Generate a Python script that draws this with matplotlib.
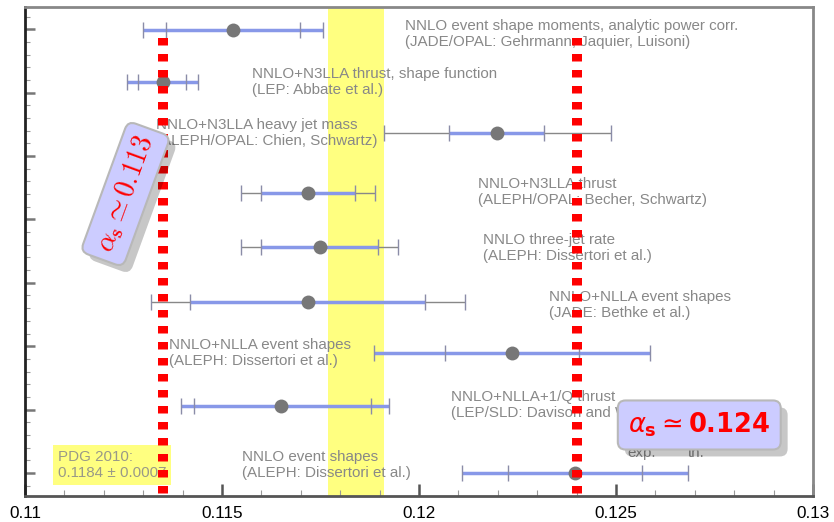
import matplotlib.pyplot as plt
from matplotlib import patheffects
import numpy as np

# Mesures de alpha_s (de baixo para cima)
labels = [
    'NNLO event shapes\n(ALEPH: Dissertori et al.)',
    'NNLO+NLLA+1/Q thrust\n(LEP/SLD: Davison and Webber)',
    'NNLO+NLLA event shapes\n(ALEPH: Dissertori et al.)',
    'NNLO+NLLA event shapes\n(JADE: Bethke et al.)',
    'NNLO three-jet rate\n(ALEPH: Dissertori et al.)',
    'NNLO+N3LLA thrust\n(ALEPH/OPAL: Becher, Schwartz)',
    'NNLO+N3LLA heavy jet mass\n(ALEPH/OPAL: Chien, Schwartz)',
    'NNLO+N3LLA thrust, shape function\n(LEP: Abbate et al.)',
    'NNLO event shape moments, analytic power corr.\n(JADE/OPAL: Gehrmann, Jaquier, Luisoni)',
]
row_pos = [0, 1.06, 1.90, 2.69, 3.56, 4.41, 5.36, 6.17, 6.99]
central = [0.12396, 0.11651, 0.12237, 0.11718, 0.11749, 0.11718, 0.12197, 0.11349, 0.11529]
exp_lo = [0.12227, 0.11430, 0.12066, 0.11420, 0.11599, 0.11599, 0.12076, 0.11288, 0.11359]
exp_hi = [0.12565, 0.11878, 0.12405, 0.12015, 0.11897, 0.11837, 0.12317, 0.11409, 0.11699]
tot_lo = [0.12108, 0.11396, 0.11887, 0.11319, 0.11548, 0.11548, 0.11910, 0.11260, 0.11299]
tot_hi = [0.12684, 0.11923, 0.12586, 0.12118, 0.11946, 0.11888, 0.12487, 0.11438, 0.11757]
th_grey = [False, False, False, True, True, True, True, False, False]

pdg_value = 0.1184
pdg_err = 0.0007
ref_values = [0.1135, 0.1240]

xticks = [0.11, 0.115, 0.12, 0.125, 0.13]
xticklabels = ['0.11', '0.115', '0.12', '0.125', '0.13']

blue = '#8898e8'
grey = '#888888'

fig = plt.figure(figsize=(8.34, 5.22), dpi=100)
ax = fig.add_axes([25/834, 26/522, 788/834, 489/522])

# banda do PDG
ax.axvspan(pdg_value - pdg_err, pdg_value + pdg_err, color='#ffff80', lw=0, zorder=0)

# barras de erro
for i in range(len(central)):
    y = row_pos[i]
    if th_grey[i]:
        ax.hlines(y, tot_lo[i], tot_hi[i], color=grey, lw=1, zorder=3)
        ax.hlines(y, exp_lo[i], exp_hi[i], color=blue, lw=2.5, zorder=3)
    else:
        ax.hlines(y, tot_lo[i], tot_hi[i], color=blue, lw=2.5, zorder=3)
    caps = [tot_lo[i], exp_lo[i], exp_hi[i], tot_hi[i]]
    ax.plot(caps, [y]*4, '|', ms=11, mew=1, color='#8a8ca8', zorder=3)

ax.plot(central, row_pos, 'o', ms=10, color='#777777', mec='none', zorder=3.5)

# textos das medidas
label_pos = [(0.115511, 0.36), (0.120819, 1.31), (0.113665, 2.13), (0.123297, 2.89),
             (0.121628, 3.79), (0.121502, 4.67), (0.113337, 5.60), (0.115763, 6.40),
             (0.119656, 7.16)]
for s, (lx, ly) in zip(labels, label_pos):
    ax.text(lx, ly, s, ha='left', va='top', fontsize=10.9, color=grey,
            family='Liberation Sans', linespacing=1.2, zorder=2)

ax.text(exp_hi[0], 0.26, 'exp.', ha='center', va='baseline', fontsize=10.9,
        color=grey, family='Liberation Sans', zorder=2)
ax.text(tot_hi[0] + 0.0002, 0.26, 'th.', ha='center', va='baseline', fontsize=10.9,
        color=grey, family='Liberation Sans', zorder=2)

# caixa PDG
ax.text(0.110834, 0.363, f'PDG 2010:\n{pdg_value} \u00b1 {pdg_err}', ha='left', va='top',
        fontsize=10.9, color='#999988', family='Liberation Sans', linespacing=1.2,
        bbox=dict(boxstyle='square,pad=0.3', fc='#ffff80', ec='none'), zorder=2)

# linhas vermelhas
for v in ref_values:
    ax.plot([v, v], [0.937, 0], transform=ax.get_xaxis_transform(), color='red',
            lw=7.2, ls=(0, (0.75, 0.85)), solid_capstyle='butt', zorder=4)

# caixas com alpha_s
shadow = [patheffects.withSimplePatchShadow(offset=(5, -5), shadow_rgbFace='k', alpha=0.22)]
t1 = ax.text(0.11255, 4.40, r'$\alpha_{\mathbf{s}} \simeq \mathbf{0.113}$', rotation=70,
             rotation_mode='anchor', ha='center', va='center', fontsize=20, color='red',
             math_fontfamily='cm', zorder=6,
             bbox=dict(boxstyle='round,pad=0.3,rounding_size=0.3', fc='#ccccff', ec='#b8b8b8', lw=1.5))
t1.get_bbox_patch().set_path_effects(shadow)
t2 = ax.text(0.127113, 0.757, r'$\alpha_{\mathbf{s}} \simeq \mathbf{0.124}$',
             ha='center', va='center', fontsize=18.5, color='red',
             math_fontfamily='dejavusans', zorder=6,
             bbox=dict(boxstyle='round,pad=0.4,rounding_size=0.3', fc='#ccccff', ec='#b8b8b8', lw=1.5))
t2.get_bbox_patch().set_path_effects(shadow)

# eixos
ax.set_xlim(0.11, 0.13)
ax.set_ylim(-0.363, 7.35)
ax.set_xticks(xticks)
ax.set_xticklabels(xticklabels, family='Liberation Sans')
ax.set_xticks(np.arange(0.11, 0.1301, 0.001), minor=True)
ax.set_yticks(np.arange(0, 8))
ax.set_yticks(np.arange(-0.2, 7.3, 0.2), minor=True)
ax.tick_params(axis='y', which='major', direction='in', length=7, width=1.8, color='#777', labelleft=False)
ax.tick_params(axis='y', which='minor', direction='in', length=3.5, width=0.8, color='#999')
ax.tick_params(axis='x', which='major', direction='in', length=8.5, width=1.8, color='#555', labelsize=12.3, pad=7)
ax.tick_params(axis='x', which='minor', direction='in', length=4, width=0.8, color='#999')

for side, c in [('left', '#222222'), ('bottom', '#555555'), ('top', '#888888'), ('right', '#888888')]:
    ax.spines[side].set_color(c)
    ax.spines[side].set_linewidth(2)

plt.savefig('out.png', dpi=100)
